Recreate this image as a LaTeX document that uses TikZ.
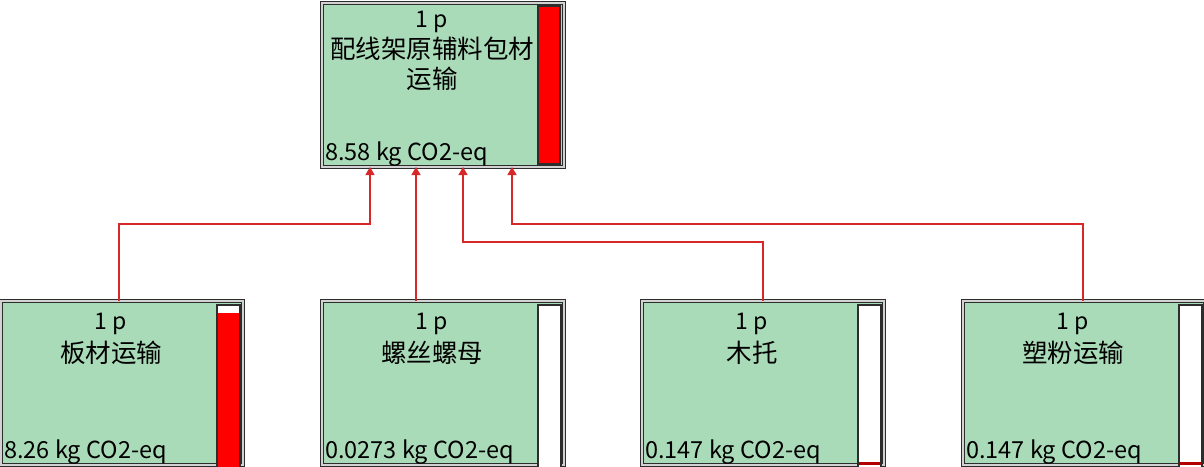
\documentclass[tikz,border=0pt]{standalone}
\usepackage{fontspec}
\setmainfont{Noto Sans CJK SC}
\newfontfamily\cjk{Noto Sans CJK SC}
\usetikzlibrary{arrows.meta,calc}
\definecolor{boxgreen}{RGB}{170,219,184}
\definecolor{barred}{RGB}{255,0,0}
\definecolor{linered}{RGB}{214,40,40}
\definecolor{edge}{RGB}{45,45,45}
\tikzset{
  procbox/.style={draw=edge,line width=1pt,double=gray!35,double distance=1.2pt,fill=boxgreen,
    rectangle,anchor=north west,minimum width=242pt,minimum height=164pt,inner sep=0pt,outer sep=0pt},
  bar/.style={draw=edge,line width=1.2pt},
  qty/.style={font=\fontsize{23}{26}\selectfont,inner sep=0pt},
  title/.style={font=\cjk\fontsize{25.5}{30.5}\selectfont,inner sep=0pt,align=center},
  score/.style={font=\fontsize{23.5}{26}\selectfont,inner sep=0pt,anchor=west},
  link/.style={draw=linered,line width=1.3pt,-{Triangle[width=9pt,length=8pt]}}
}
\begin{document}
\begin{tikzpicture}[x=1pt,y=-1pt]
\useasboundingbox (0,0) rectangle (1204,466);
\clip (0,0) rectangle (1204,466);
% boxes
\node[procbox] (top) at (322,3) {};
\node[procbox] (b1) at (1,301) {};
\node[procbox] (b2) at (322,301) {};
\node[procbox] (b3) at (642,301) {};
\node[procbox] (b4) at (963,301) {};
% bars
\filldraw[bar,fill=barred] ($(top.north west)+(216,3)$) rectangle ($(top.south west)+(238,-3)$);
\filldraw[bar,fill=white] ($(b1.north west)+(216,4)$) rectangle ($(b1.north west)+(239,200)$);
\fill[barred] ($(b1.north west)+(217,12)$) rectangle ($(b1.north west)+(238,200)$);
\filldraw[bar,fill=white] ($(b2.north west)+(216,4)$) rectangle ($(b2.north west)+(239,200)$);
\filldraw[bar,fill=white] ($(b3.north west)+(216,4)$) rectangle ($(b3.north west)+(239,200)$);
\fill[barred!70!black] ($(b3.north west)+(217,161)$) rectangle ($(b3.north west)+(238,164)$);
\filldraw[bar,fill=white] ($(b4.north west)+(216,4)$) rectangle ($(b4.north west)+(239,200)$);
\fill[barred!70!black] ($(b4.north west)+(217,161)$) rectangle ($(b4.north west)+(238,164)$);
% texts
\node[qty] (tq) at ($(top.north west)+(110,19)$) {1 p};
\node[title] (tt) at ($(top.north west)+(110,61)$) {配线架原辅料包材\\运输};
\node[score] (ts) at ($(top.north west)+(3,151)$) {8.58 kg CO2-eq};
\node[qty] (q1) at ($(b1.north west)+(110,23)$) {1 p};
\node[title] (n1) at ($(b1.north west)+(110,52)$) {板材运输};
\node[score] (s1) at ($(b1.north west)+(3,151)$) {8.26 kg CO2-eq};
\node[qty] (q2) at ($(b2.north west)+(110,23)$) {1 p};
\node[title] (n2) at ($(b2.north west)+(110,52)$) {螺丝螺母};
\node[score] (s2) at ($(b2.north west)+(3,151)$) {0.0273 kg CO2-eq};
\node[qty] (q3) at ($(b3.north west)+(110,23)$) {1 p};
\node[title] (n3) at ($(b3.north west)+(110,52)$) {木托};
\node[score] (s3) at ($(b3.north west)+(3,151)$) {0.147 kg CO2-eq};
\node[qty] (q4) at ($(b4.north west)+(110,23)$) {1 p};
\node[title] (n4) at ($(b4.north west)+(110,52)$) {塑粉运输};
\node[score] (s4) at ($(b4.north west)+(3,151)$) {0.147 kg CO2-eq};
% connection points
\coordinate (t1) at ($(top.south west)+(48,0)$);
\coordinate (t2) at ($(top.south west)+(94,0)$);
\coordinate (t3) at ($(top.south west)+(141,0)$);
\coordinate (t4) at ($(top.south west)+(190,0)$);
\coordinate (o1) at ($(b1.north west)+(118,0)$);
\coordinate (o2) at ($(b2.north west)+(94,0)$);
\coordinate (o3) at ($(b3.north west)+(121,0)$);
\coordinate (o4) at ($(b4.north west)+(120,0)$);
\draw[link] (o1) -- (o1 |- 0,224) -- (t1 |- 0,224) -- (t1);
\draw[link] (o2) -- (t2);
\draw[link] (o3) -- (o3 |- 0,242) -- (t3 |- 0,242) -- (t3);
\draw[link] (o4) -- (o4 |- 0,224) -- (t4 |- 0,224) -- (t4);
\end{tikzpicture}
\end{document}
